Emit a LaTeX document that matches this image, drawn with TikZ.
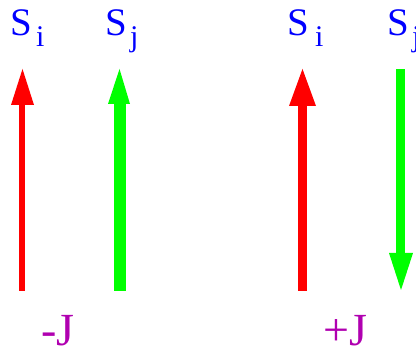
\documentclass[tikz,border=0pt]{standalone}
\usepackage{fontspec}
\setmainfont{Liberation Serif}
\definecolor{spinred}{RGB}{255,0,0}
\definecolor{spingreen}{RGB}{0,255,0}
\definecolor{labblue}{RGB}{0,0,255}
\definecolor{jpurple}{RGB}{176,0,176}
\begin{document}
\begin{tikzpicture}[x=1pt,y=-1pt,
  lab/.style={anchor=base west,inner sep=0pt,text=labblue,font=\fontsize{39}{39}\selectfont},
  sub/.style={anchor=base west,inner sep=0pt,text=labblue,font=\fontsize{30}{30}\selectfont},
  coup/.style={anchor=base west,inner sep=0pt,text=jpurple,font=\fontsize{46}{46}\selectfont}]
\useasboundingbox (0,0) rectangle (416,352);
\clip (0,0) rectangle (416,352);
% labels
\node[lab] (s1) at (10,36) {S};
\node[sub] (i1) at (36,47) {i};
\node[lab] (s2) at (105,36) {S};
\node[sub] (j2) at (130,47) {j};
\node[lab] (s3) at (287,36) {S};
\node[sub] (i3) at (315,47) {i};
\node[lab] (s4) at (387,36) {S};
\node[sub] (j4) at (412,47) {j};
% arrows
\fill[spinred] (19,291) rectangle (25,100);
\fill[spinred] (11,105) -- (22.5,69) -- (34,105) -- cycle;
\fill[spingreen] (114,291) rectangle (126,100);
\fill[spingreen] (108,104) -- (119.5,69) -- (130,104) -- cycle;
\fill[spinred] (298,291) rectangle (307,100);
\fill[spinred] (289,106) -- (302.5,69) -- (316,106) -- cycle;
\fill[spingreen] (396,69) rectangle (405,258);
\fill[spingreen] (389,253) -- (401,290) -- (413,253) -- cycle;
% couplings
\node[coup] (jm) at (41,346) {-J};
\node[coup] (jp) at (323.5,346) {+J};
\end{tikzpicture}
\end{document}
